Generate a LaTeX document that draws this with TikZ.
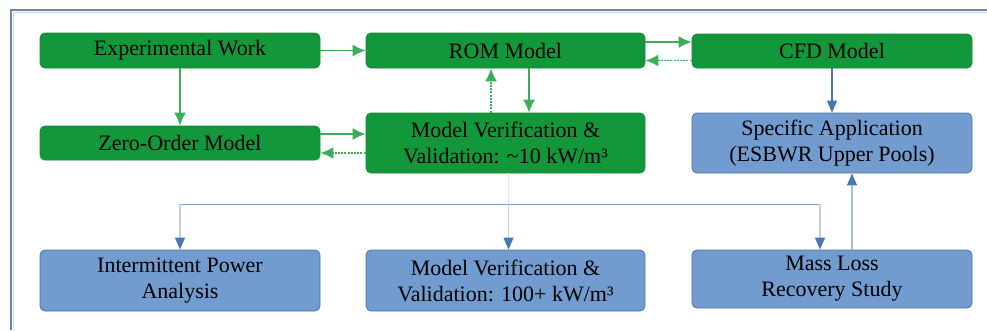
\documentclass[tikz,border=0pt]{standalone}
\usepackage{fontspec}
\setmainfont{Liberation Serif}
\usetikzlibrary{arrows.meta,calc}
\definecolor{gfill}{HTML}{12983A}
\definecolor{gline}{HTML}{0E8A33}
\definecolor{garrow}{HTML}{3AAE5A}
\definecolor{bfill}{HTML}{729CCF}
\definecolor{bline}{HTML}{4A74AA}
\definecolor{barrow}{HTML}{4A76B4}
\definecolor{bdist}{HTML}{7FA0CF}
\definecolor{frame}{HTML}{6A84A8}
\tikzset{
  gbox/.style={draw=gline, fill=gfill, rounded corners=5pt, line width=0.8pt, align=center, inner sep=0pt, font=\fontsize{22}{26}\selectfont},
  bbox/.style={draw=bline, fill=bfill, rounded corners=5pt, line width=0.8pt, align=center, inner sep=0pt, font=\fontsize{22}{26}\selectfont},
  garr/.style={draw=garrow, line width=1.6pt, -{Latex[length=13pt,width=12pt]}},
  gdot/.style={garr, dash pattern=on 2pt off 1.2pt},
  barr/.style={draw=barrow, line width=1.2pt, -{Triangle[length=12pt,width=10pt,color=barrow]}},
  bdl/.style={draw=bdist, line width=1.1pt},
}
\begin{document}
\begin{tikzpicture}[x=1pt,y=-1pt]
\useasboundingbox (0,0) rectangle (987,330);
\draw[frame!35, line width=1pt] (13.5,330) -- (13.5,12.5) -- (987,12.5);
\draw[frame, line width=1.6pt] (11,330) -- (11,10) -- (987,10);

\node[gbox, minimum width=280pt, minimum height=35pt] (exp) at (180,50.5) {Experimental Work};
\node[gbox, minimum width=279pt, minimum height=35pt] (rom) at (505.5,50.5) {ROM Model};
\node[gbox, minimum width=280pt, minimum height=34pt] (cfd) at (832,51) {CFD Model};
\node[gbox, minimum width=280pt, minimum height=34pt] (zero) at (180,143) {Zero-Order Model};
\node[gbox, minimum width=279pt, minimum height=60pt] (mv1) at (505.5,143) {Model Verification \&\\Validation: \textasciitilde10 kW/m³};
\node[bbox, minimum width=280pt, minimum height=60pt] (spec) at (832,143) {Specific Application\\(ESBWR Upper Pools)};
\node[bbox, minimum width=280pt, minimum height=61pt] (ipa) at (180,280.5) {Intermittent Power\\Analysis};
\node[bbox, minimum width=279pt, minimum height=61pt] (mv2) at (505.5,280.5) {Model Verification \&\\Validation: 100+ kW/m³};
\node[bbox, minimum width=280pt, minimum height=58pt] (mass) at (832,279) {Mass Loss\\Recovery Study};

% green connectors
\draw[garr] (exp.east) -- (rom.west);
\draw[garr] (exp.south) -- (zero.north);
\draw[garr] ([yshift=9pt]zero.east) -- ([yshift=9pt]zero.east -| mv1.west);
\draw[gdot] ([yshift=-10pt]mv1.west |- zero.east) -- ([yshift=-10pt]zero.east);
\draw[garr] ([yshift=8.5pt]rom.east) -- ([yshift=8.5pt]rom.east -| cfd.west);
\draw[gdot] ([yshift=-10pt]cfd.west |- rom.east) -- ([yshift=-10pt]rom.east);
\draw[gdot] ([xshift=-14.5pt]mv1.north) -- ([xshift=-14.5pt]rom.south);
\draw[garr] ([xshift=23.5pt]rom.south) -- ([xshift=23.5pt]mv1.north);

% blue connectors
\draw[barr] (cfd.south) -- (spec.north);
\draw[barr, draw=bdist!70] ([xshift=20pt]mass.north) -- ([xshift=20pt]spec.south);
\coordinate (hub) at ($(mv1.south)+(3,31)$);
\draw[draw=bdist!25, line width=1pt] ([xshift=3pt]mv1.south) -- (hub);
\draw[bdl] (ipa.north |- hub) -- ([xshift=-12pt]mass.north |- hub);
\draw[barr, draw=bdist!50] (ipa.north |- hub) -- (ipa.north);
\draw[barr, draw=bdist!50] (hub) -- (hub |- mv2.north);
\draw[barr, draw=bdist!50] ([xshift=-12pt]mass.north |- hub) -- ([xshift=-12pt]mass.north);
\end{tikzpicture}
\end{document}
